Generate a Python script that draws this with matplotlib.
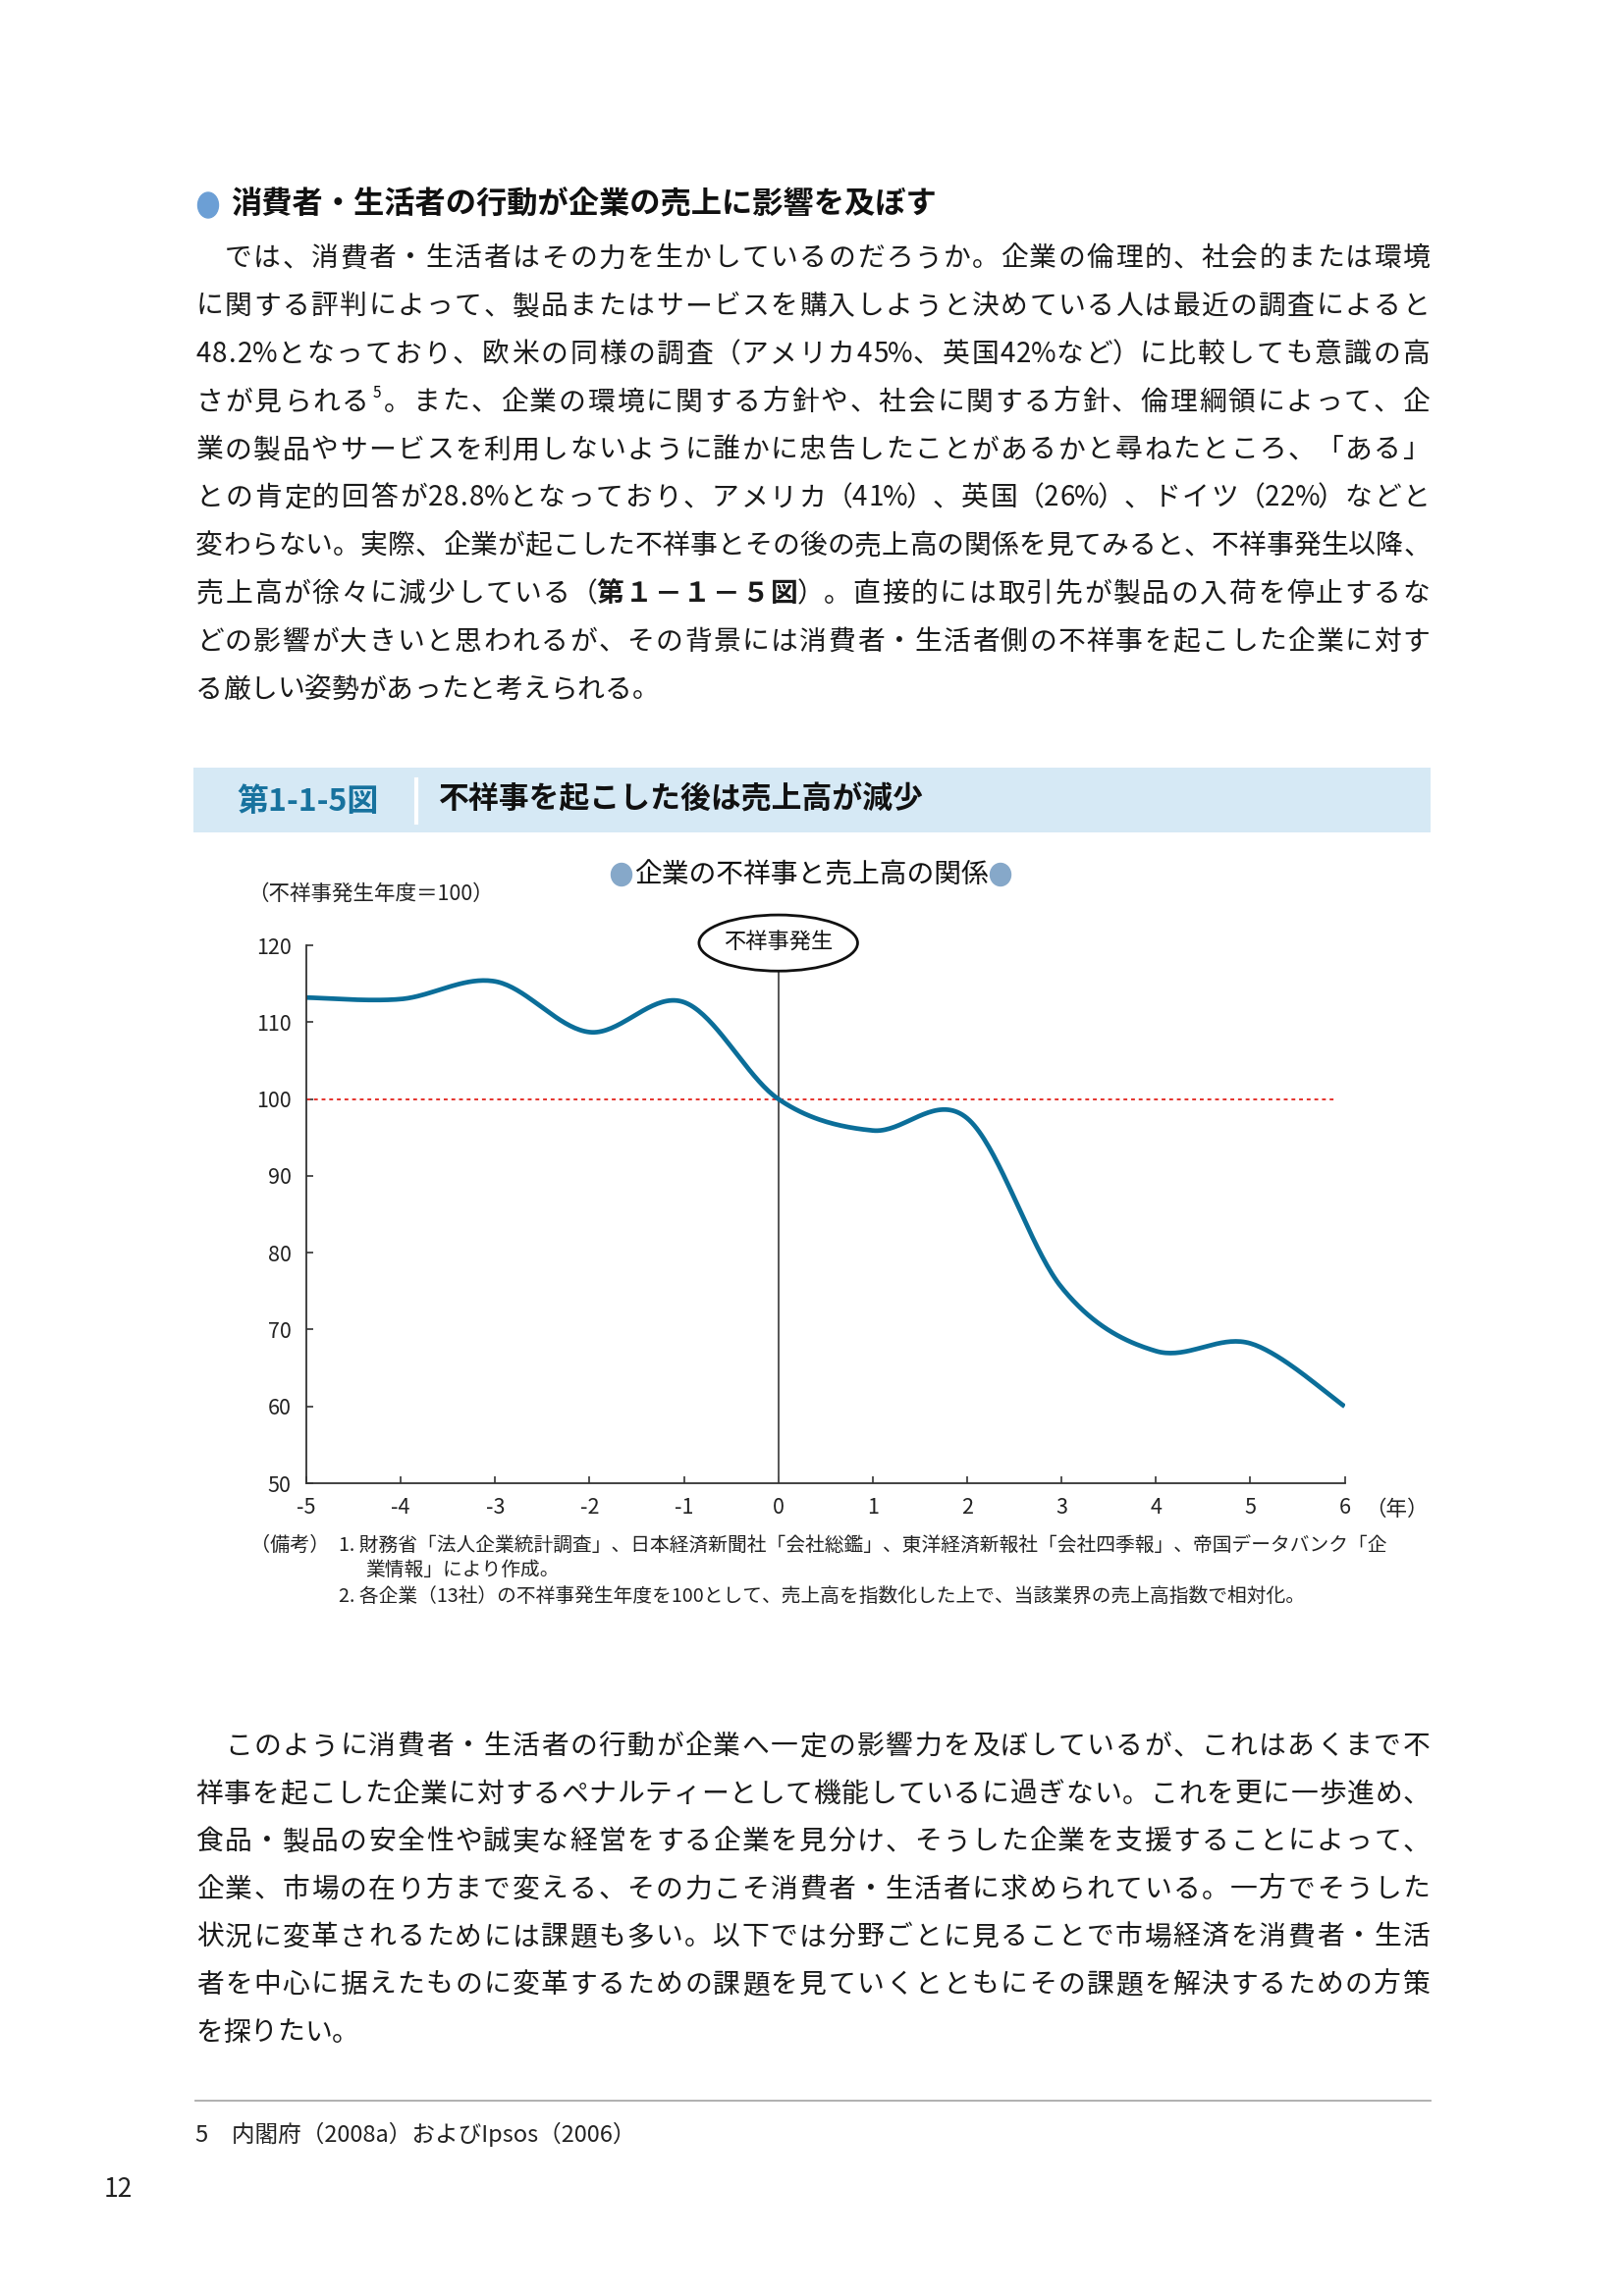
import numpy as np
import matplotlib
matplotlib.use('Agg')
import matplotlib.pyplot as plt
from matplotlib.patches import Ellipse, Rectangle

plt.rcParams['font.family'] = ['Noto Sans CJK JP', 'DejaVu Sans']

# page size in pixels (dpi 100)
W, H = 1654, 2339

# chart data
years = [-5, -4, -3, -2, -1, 0, 1, 2, 3, 4, 5, 6]
sales_index = [113.2, 113.0, 115.3, 108.7, 112.6, 100.0, 95.9, 97.5, 75.5, 67.2, 68.2, 60.0]
y_ticks = [50, 60, 70, 80, 90, 100, 110, 120]
x_tick_labels = ['-5', '-4', '-3', '-2', '-1', '0', '1', '2', '3', '4', '5', '6']
base_value = 100
event_year = 0
event_label = '不祥事発生'

heading = '消費者・生活者の行動が企業の売上に影響を及ぼす'
para1 = [
    '　では、消費者・生活者はその力を生かしているのだろうか。企業の倫理的、社会的または環境',
    'に関する評判によって、製品またはサービスを購入しようと決めている人は最近の調査によると',
    '48.2%となっており、欧米の同様の調査（アメリカ45%、英国42%など）に比較しても意識の高',
    'さが見られる⁵。また、企業の環境に関する方針や、社会に関する方針、倫理綱領によって、企',
    '業の製品やサービスを利用しないように誰かに忠告したことがあるかと尋ねたところ、「ある」',
    'との肯定的回答が28.8%となっており、アメリカ（41%）、英国（26%）、ドイツ（22%）などと',
    '変わらない。実際、企業が起こした不祥事とその後の売上高の関係を見てみると、不祥事発生以降、',
    '売上高が徐々に減少している（第１－１－５図）。直接的には取引先が製品の入荷を停止するな',
    'どの影響が大きいと思われるが、その背景には消費者・生活者側の不祥事を起こした企業に対す',
    'る厳しい姿勢があったと考えられる。',
]
para2 = [
    '　このように消費者・生活者の行動が企業へ一定の影響力を及ぼしているが、これはあくまで不',
    '祥事を起こした企業に対するペナルティーとして機能しているに過ぎない。これを更に一歩進め、',
    '食品・製品の安全性や誠実な経営をする企業を見分け、そうした企業を支援することによって、',
    '企業、市場の在り方まで変える、その力こそ消費者・生活者に求められている。一方でそうした',
    '状況に変革されるためには課題も多い。以下では分野ごとに見ることで市場経済を消費者・生活',
    '者を中心に据えたものに変革するための課題を見ていくとともにその課題を解決するための方策',
    'を探りたい。',
]
fig_no = '第1-1-5図'
fig_title = '不祥事を起こした後は売上高が減少'
chart_title = '企業の不祥事と売上高の関係'
unit_label = '（不祥事発生年度＝100）'
year_label = '（年）'
note_head = '（備考）'
notes = [
    '1. 財務省「法人企業統計調査」、日本経済新聞社「会社総鑑」、東洋経済新報社「会社四季報」、帝国データバンク「企',
    '業情報」により作成。',
    '2. 各企業（13社）の不祥事発生年度を100として、売上高を指数化した上で、当該業界の売上高指数で相対化。',
]
footnote = '5　内閣府（2008a）およびIpsos（2006）'
page_no = '12'

LEFT, RIGHT = 199, 1457


def fx(px):
    return px / W


def fy(py):
    return 1 - py / H


fig = plt.figure(figsize=(W / 100, H / 100), dpi=100)


def char_width(c):
    if c == '⁵':
        return 0.45
    if c == '.':
        return 0.32
    if c == '%':
        return 0.8
    if ord(c) < 128:
        return 0.55
    if c in '（）':
        return 0.85
    return 1.0


def put_line(text, x0, y, x1=None, size=20, bold_part=None):
    """一文字ずつ置いて両端揃えにする"""
    em = size * 100 / 72
    ws = [char_width(c) for c in text]
    unit = em if x1 is None else (x1 - x0) / sum(ws)
    bold_idx = set()
    if bold_part and bold_part in text:
        s = text.index(bold_part)
        bold_idx = set(range(s, s + len(bold_part)))
    base = y + 0.36 * em
    pos = x0
    for i, (c, w) in enumerate(zip(text, ws)):
        cx = pos + w * unit / 2
        if c == '⁵':
            fig.text(fx(cx), fy(base - 0.45 * em), '5', fontsize=size * 0.55,
                     ha='center', va='baseline')
        elif c != '　':
            fig.text(fx(cx), fy(base), c, fontsize=size, ha='center', va='baseline',
                     fontweight='bold' if i in bold_idx else 'normal', color='#1a1a1a')
        pos += w * unit


# heading
fig.add_artist(Ellipse((fx(212), fy(209)), 21 / W, 26 / H, transform=fig.transFigure,
                       color='#6c9fd5'))
fig.text(fx(235), fy(209), heading, fontsize=22.5, fontweight='bold', va='center',
         color='#111')

for i, line in enumerate(para1):
    last = i == len(para1) - 1
    put_line(line, LEFT, 261.3 + 48.8 * i, None if last else RIGHT, bold_part='第１－１－５図')

# figure title band
fig.add_artist(Rectangle((fx(197), fy(848)), (RIGHT - 197) / W, 66 / H,
                         transform=fig.transFigure, color='#d6e9f5', lw=0))
fig.add_artist(plt.Line2D([fx(424), fx(424)], [fy(794), fy(838)], transform=fig.transFigure,
                          color='white', lw=3))
fig.text(fx(241), fy(817), fig_no, fontsize=23, fontweight='bold', color='#17729e',
         va='center')
fig.text(fx(447), fy(815), fig_title, fontsize=22.2, fontweight='bold', color='#111',
         va='center')

# chart subtitle
fig.text(fx(826), fy(891), chart_title, fontsize=20, ha='center', va='center', color='#111')
for cx in (633, 1019):
    fig.add_artist(Ellipse((fx(cx), fy(891)), 21 / W, 23 / H, transform=fig.transFigure,
                           color='#86a8c9'))
fig.text(fx(252), fy(911), unit_label, fontsize=15.5, va='center', color='#222')

# chart
ax = fig.add_axes([fx(312), fy(1511), (1369.5 - 312) / W, (1511 - 963) / H])


def smooth(xs, ys, n=40):
    """Excel風の平滑線 (Catmull-Rom)"""
    pts = np.column_stack([xs, ys]).astype(float)
    out = []
    for i in range(len(pts) - 1):
        p0 = pts[i - 1] if i > 0 else pts[i]
        p1, p2 = pts[i], pts[i + 1]
        p3 = pts[i + 2] if i + 2 < len(pts) else pts[i + 1]
        c1 = p1 + (p2 - p0) / 6
        c2 = p2 - (p3 - p1) / 6
        t = np.linspace(0, 1, n)[:, None]
        seg = (1 - t) ** 3 * p1 + 3 * (1 - t) ** 2 * t * c1 + 3 * (1 - t) * t ** 2 * c2 + t ** 3 * p2
        out.append(seg if i == 0 else seg[1:])
    out = np.vstack(out)
    return out[:, 0], out[:, 1]


sx, sy = smooth(years, sales_index)
ax.plot([years[0], 5.9], [base_value, base_value], color='#e5322d', lw=1.4, ls=(0, (2, 2)))
ax.plot([event_year, event_year], [y_ticks[0], 116.6], color='#555', lw=1.4)
ax.plot(sx, sy, color='#0b6e99', lw=3.4, solid_capstyle='butt')

ax.add_patch(Ellipse((event_year, 120.3), 1.68, 7.3, facecolor='white', edgecolor='#111',
                     lw=2, clip_on=False, zorder=5))
ax.text(event_year, 120.3, event_label, fontsize=16, ha='center', va='center', zorder=6,
        color='#111')

ax.set_xlim(years[0], years[-1])
ax.set_ylim(y_ticks[0], y_ticks[-1])
ax.set_xticks(years)
ax.set_xticklabels(x_tick_labels)
ax.set_yticks(y_ticks)
ax.tick_params(direction='in', length=5, width=1.1, labelsize=15.5, colors='#222')
ax.tick_params(axis='x', pad=10)
ax.tick_params(axis='y', pad=11)
for s in ['top', 'right']:
    ax.spines[s].set_visible(False)
for s in ['left', 'bottom']:
    ax.spines[s].set_color('#333')
    ax.spines[s].set_linewidth(1.3)
ax.patch.set_visible(False)

fig.text(fx(1390), fy(1538), year_label, fontsize=15.5, va='center', color='#222')

# notes
fig.text(fx(255), fy(1574), note_head, fontsize=14.5, va='center', color='#222')
fig.text(fx(345), fy(1574), notes[0], fontsize=14.2, va='center', color='#222')
fig.text(fx(372), fy(1599), notes[1], fontsize=14.2, va='center', color='#222')
fig.text(fx(345), fy(1626), notes[2], fontsize=14.2, va='center', color='#222')

for i, line in enumerate(para2):
    last = i == len(para2) - 1
    put_line(line, LEFT, 1777 + 48.6 * i, None if last else RIGHT)

# footnote
fig.add_artist(plt.Line2D([fx(LEFT), fx(RIGHT)], [fy(2140), fy(2140)],
                          transform=fig.transFigure, color='#aaa', lw=1.3))
fig.text(fx(LEFT), fy(2174), footnote, fontsize=17, va='center', color='#222')
fig.text(fx(106), fy(2231), page_no, fontsize=19, va='center', color='#222')

fig.savefig('out.png', dpi=100)
